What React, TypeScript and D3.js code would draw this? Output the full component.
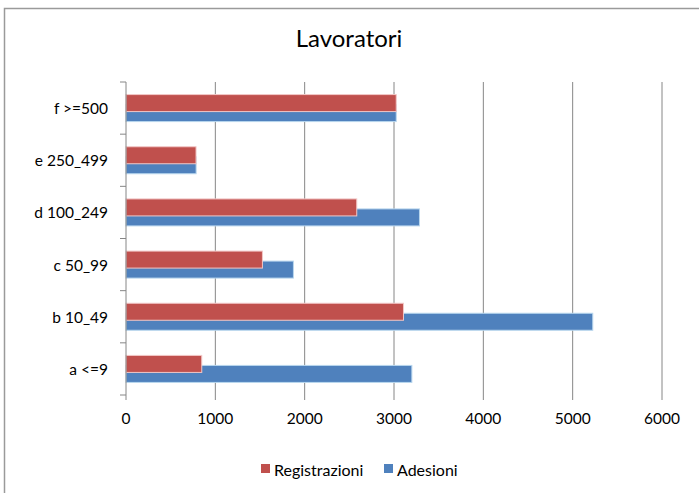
import React from "react";
import * as d3 from "d3";

const categories = ["a <=9", "b 10_49", "c 50_99", "d 100_249", "e 250_499", "f >=500"];
const registrazioni = [848, 3106, 1527, 2583, 784, 3025];
const adesioni = [3200, 5225, 1874, 3285, 785, 3025];
const xTicks = [0, 1000, 2000, 3000, 4000, 5000, 6000];
const seriesNames = ["Registrazioni", "Adesioni"];

const W = 699;
const H = 493;
const FONT = "Lato, 'Open Sans', sans-serif";

export default function App() {
  const x = d3.scaleLinear().domain([0, 6000]).range([126, 662]);
  const y = d3
    .scaleBand<string>()
    .domain([...categories].reverse())
    .range([82, 395])
    .padding(0);
  const bh = 17;
  const off = 5;
  const red = "#C0504D";
  const blue = "#4F81BD";
  const bounds = [...categories.map((c) => y(c) as number), 395];

  return (
    <svg width={W} height={H} style={{ position: "absolute", left: 0, top: 0 }}>
      <rect x={0} y={0} width={W} height={H} fill="#fff" />
      <rect x={4.5} y={8.5} width={W + 10} height={H + 10} fill="none" stroke="#9a9a9a" strokeWidth={1.5} />
      <text x={349} y={47} textAnchor="middle" fontFamily={FONT} fontSize={24} fill="#000">
        Lavoratori
      </text>
      {xTicks.slice(1).map((t) => (
        <line key={t} x1={x(t)} x2={x(t)} y1={82} y2={400} stroke="#868686" strokeWidth={1} />
      ))}
      {categories.map((c, i) => {
        const cy = (y(c) as number) + y.bandwidth() / 2;
        return (
          <g key={c}>
            <rect
              x={x(0)}
              y={cy + off - bh / 2}
              width={x(adesioni[i]) - x(0)}
              height={bh}
              fill={blue}
              stroke="#B9D7EE"
              strokeWidth={1}
            />
            <rect
              x={x(0)}
              y={cy - off - bh / 2}
              width={x(registrazioni[i]) - x(0)}
              height={bh}
              fill={red}
              stroke="#F2C8C7"
              strokeWidth={1}
            />
            <text
              x={108}
              y={cy}
              textAnchor="end"
              dominantBaseline="central"
              fontFamily={FONT}
              fontSize={15.5}
              fill="#000"
            >
              {c}
            </text>
          </g>
        );
      })}
      <line x1={126} x2={126} y1={82} y2={400} stroke="#868686" strokeWidth={1} />
      {bounds.map((b, i) => (
        <line key={i} x1={120} x2={126} y1={b} y2={b} stroke="#868686" strokeWidth={1} />
      ))}
      {xTicks.map((t) => (
        <text
          key={t}
          x={x(t)}
          y={418}
          textAnchor="middle"
          dominantBaseline="central"
          fontFamily={FONT}
          fontSize={15.5}
          fill="#000"
        >
          {t}
        </text>
      ))}
      <g fontFamily={FONT} fontSize={16}>
        <rect x={261} y={464} width={9} height={9} fill={red} />
        <text x={274} y={469} dominantBaseline="central">
          {seriesNames[0]}
        </text>
        <rect x={384} y={464} width={9} height={9} fill={blue} />
        <text x={397} y={469} dominantBaseline="central">
          {seriesNames[1]}
        </text>
      </g>
    </svg>
  );
}
